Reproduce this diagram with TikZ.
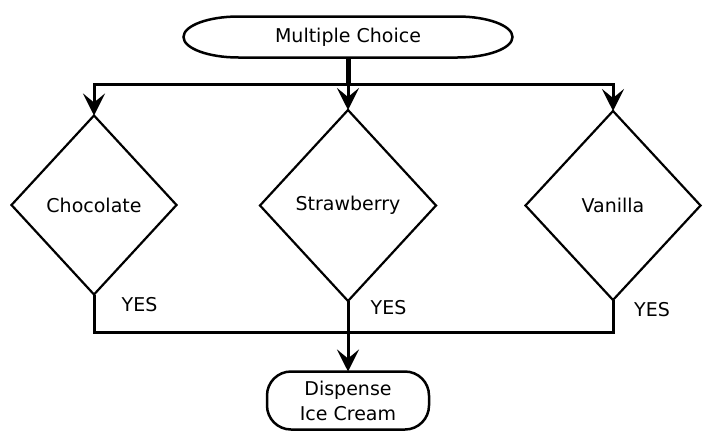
\documentclass[tikz,border=0pt]{standalone}
\usepackage{fontspec}
\setmainfont{DejaVu Sans}
\usetikzlibrary{shapes.geometric,arrows.meta}
\begin{document}
\begin{tikzpicture}[x=1pt,y=-1pt,
  every node/.style={font=\fontsize{19}{25}\selectfont},
  decision/.style={diamond,draw,line width=2.2pt,inner sep=0pt,outer sep=0pt},
  conn/.style={line width=3pt},
  arr/.style={conn,-{Stealth[length=22pt,width=22pt,inset=9pt]}},
  lbl/.style={inner sep=0pt}]
\fill[white] (0,0) rectangle (719,439);
\useasboundingbox (0,0) rectangle (719,439);
% top terminator
\node[inner sep=0pt,outer sep=0pt,minimum width=329pt,minimum height=41pt] (mc) at (348,37) {Multiple Choice};
\draw[line width=2.5pt] ([xshift=55pt]mc.north west) -- ([xshift=-55pt]mc.north east)
  arc[start angle=90,end angle=-90,x radius=55pt,y radius=20.5pt]
  -- ([xshift=55pt]mc.south west)
  arc[start angle=270,end angle=90,x radius=55pt,y radius=20.5pt] -- cycle;
% decisions
\node[decision,minimum width=165pt,minimum height=179pt] (choc) at (94,205) {Chocolate};
\node[decision,minimum width=176pt,minimum height=191pt] (straw) at (348,205.5) {Strawberry};
\node[decision,minimum width=175pt,minimum height=189pt] (van) at (613,205.5) {Vanilla};
% bottom terminator
\node[draw,line width=2.5pt,rounded corners=24pt,align=center,inner sep=0pt,outer sep=0pt,
  minimum width=162pt,minimum height=58pt] (disp) at (348,400.5) {Dispense\\Ice Cream};
% labels
\node[lbl] (y1) at (139.5,305) {YES};
\node[lbl] (y2) at (388.5,308) {YES};
\node[lbl] (y3) at (652,310) {YES};
% junctions
\coordinate (jt) at (348,84);
\coordinate (jb) at (348,332);
% connectors
\draw[line width=5pt] (mc.south) -- (jt);
\draw[arr] (jt) -| (choc.north);
\draw[arr] (jt) -| (van.north);
\draw[arr] (jt) -- (straw.north);
\draw[conn] (choc.south) |- (jb);
\draw[conn] (van.south) |- (jb);
\draw[conn] (straw.south) -- (jb);
\draw[arr] (jb) -- (disp.north);
\end{tikzpicture}
\end{document}
